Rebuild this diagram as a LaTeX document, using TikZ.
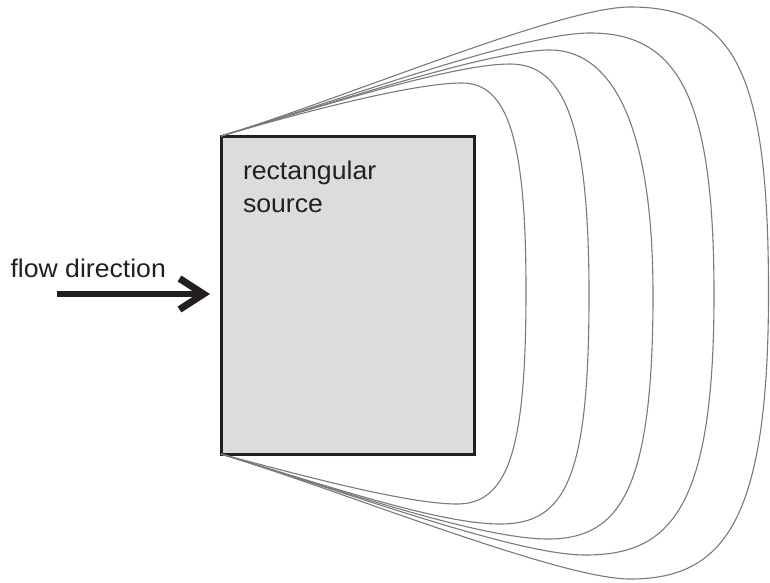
\documentclass[tikz,border=0pt]{standalone}
\usepackage{fontspec}
\setmainfont{Liberation Sans}[FakeStretch=1.04]
\definecolor{edgedark}{HTML}{231F20}
\definecolor{srcfill}{HTML}{DCDCDC}
\definecolor{curvegray}{HTML}{7A7A7A}
\begin{document}
\begin{tikzpicture}[x=1pt,y=-1pt,
  srcbox/.style={draw=edgedark, fill=srcfill, line width=3pt, minimum width=253pt, minimum height=318pt, inner sep=0pt, outer sep=0pt},
  lbl/.style={inner sep=0pt, outer sep=0pt, text=edgedark, font=\fontsize{25.6}{32.4}\selectfont},
  contour/.style={draw=curvegray, line width=1.1pt},
  shaft/.style={draw=edgedark, line width=6.5pt},
  barb/.style={draw=edgedark, line width=7pt, line join=miter, line cap=butt}]
\useasboundingbox (0,0) rectangle (770,582);
\node[srcbox] (src) at (347.5,295) {};
\node[lbl, anchor=north west, align=left] (srclabel) at (243,161.2) {rectangular\\source};
\node[lbl, anchor=base west] (flowlabel) at (10.5,277.5) {flow direction};
% flow arrow
\coordinate (fstart) at (57,294);
\coordinate (ftip) at (203.5,294);
\draw[shaft] (fstart) -- (ftip);
\draw[barb] (ftip) +(-24,-15.5) -- (ftip) -- +(-24,15.5);
% contour lines
\draw[contour] (src.north west) .. controls (310,110) and (415,83) .. (462,83)
  .. controls (508,83) and (526,140) .. (526,290)
  .. controls (526,445) and (510,504) .. (457,504)
  .. controls (410,504) and (310,478) .. (src.south west);
\draw[contour] (src.north west) .. controls (328,104) and (455,64) .. (510,64)
  .. controls (565,64) and (589,125) .. (589,295)
  .. controls (589,480) and (565,524) .. (500,524)
  .. controls (440,524) and (328,486) .. (src.south west);
\draw[contour] (src.north west) .. controls (332,103) and (490,50) .. (550,50)
  .. controls (605,50) and (653,110) .. (653,295)
  .. controls (653,490) and (620,539) .. (548,539)
  .. controls (480,539) and (335,489) .. (src.south west);
\draw[contour] (src.north west) .. controls (336,102) and (520,33) .. (590,33)
  .. controls (680,33) and (714,100) .. (714,295)
  .. controls (714,510) and (670,555) .. (585,555)
  .. controls (515,555) and (340,490) .. (src.south west);
\draw[contour] (src.north west) .. controls (340,100) and (560,7) .. (630,7)
  .. controls (735,7) and (768.5,72) .. (768.5,292)
  .. controls (768.5,520) and (725,579) .. (630,579)
  .. controls (560,579) and (345,492) .. (src.south west);
\end{tikzpicture}
\end{document}
